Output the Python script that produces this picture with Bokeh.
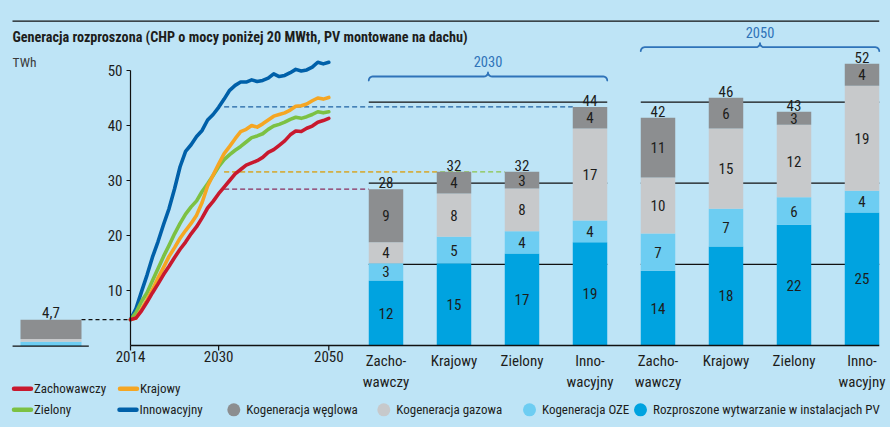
import numpy as np
from bokeh.plotting import figure
from bokeh.models import Range1d
from bokeh.core.properties import value
from bokeh.embed import file_html
from bokeh.resources import INLINE

# ---------------- data ----------------
title_text = "Generacja rozproszona (CHP o mocy poniżej 20 MWth, PV montowane na dachu)"
unit_text = "TWh"

years = list(range(2014, 2051))
zachowawczy = [4.7, 5.0, 6.3, 7.9, 9.6, 11.2, 12.9, 14.4, 16.0, 17.5, 18.8, 20.3, 21.6,
               23.2, 25.0, 26.2, 27.6, 28.8, 30.0, 31.2, 32.0, 32.8, 33.2, 33.6, 34.2,
               35.1, 35.6, 36.4, 37.2, 38.3, 39.0, 38.9, 39.5, 39.9, 40.6, 40.9, 41.3]
krajowy = [4.7, 5.0, 6.6, 8.3, 10.2, 12.3, 14.2, 16.2, 17.8, 19.5, 20.9, 22.2, 23.7,
           26.0, 29.0, 31.0, 33.0, 34.9, 36.2, 37.6, 38.9, 39.3, 40.0, 39.7, 40.3,
           41.0, 41.7, 42.0, 42.3, 42.8, 43.5, 43.6, 43.9, 44.5, 45.0, 44.8, 45.1]
zielony = [4.7, 6.0, 8.0, 9.6, 11.8, 14.0, 16.2, 18.2, 20.3, 22.2, 23.9, 25.2, 26.3,
           28.0, 29.4, 30.9, 32.5, 33.8, 34.7, 35.5, 36.2, 37.0, 37.8, 38.1, 38.5,
           39.3, 39.9, 40.2, 40.6, 41.1, 41.5, 41.3, 41.6, 42.0, 42.5, 42.3, 42.5]
innowacyjny = [4.7, 6.7, 9.8, 12.8, 16.1, 18.9, 22.0, 24.9, 28.5, 32.5, 35.3, 36.5, 38.0,
               39.1, 41.0, 42.0, 43.3, 44.8, 46.4, 47.3, 47.9, 47.9, 48.3, 48.0, 48.2,
               48.6, 49.4, 48.9, 49.1, 49.6, 50.2, 49.9, 50.1, 50.6, 51.5, 51.2, 51.5]
line_names = ["Zachowawczy", "Krajowy", "Zielony", "Innowacyjny"]

y_ticks = [10, 20, 30, 40, 50]
x_ticks = [2014, 2030, 2050]
dash_start_year = 2031

# 2014 base bar
base_pv, base_oze, base_gas, base_coal = 0.1, 0.6, 0.5, 3.5
base_label = "4,7"

# scenario bars (2030: 4 bars, 2050: 4 bars)
groups = ["2030", "2050"]
bar_cats = ["Zacho-\nwawczy", "Krajowy", "Zielony", "Inno-\nwacyjny",
            "Zacho-\nwawczy", "Krajowy", "Zielony", "Inno-\nwacyjny"]
pv = [12.0, 15.2, 17.0, 19.1, 13.8, 18.3, 22.3, 24.6]
oze = [3.2, 4.9, 4.1, 4.0, 6.9, 7.0, 5.1, 4.0]
gas = [3.9, 8.0, 7.9, 17.0, 10.35, 14.8, 13.4, 19.4]
coal = [9.8, 4.0, 3.1, 4.0, 11.05, 5.7, 2.4, 4.1]
pv_lbl = ["12", "15", "17", "19", "14", "18", "22", "25"]
oze_lbl = ["3", "5", "4", "4", "7", "7", "6", "4"]
gas_lbl = ["4", "8", "8", "17", "10", "15", "12", "19"]
coal_lbl = ["9", "4", "3", "4", "11", "6", "3", "4"]
total_lbl = ["28", "32", "32", "44", "42", "46", "43", "52"]
grid_vals = [15, 30, 45]

seg_names = ["Kogeneracja węglowa", "Kogeneracja gazowa", "Kogeneracja OZE",
             "Rozproszone wytwarzanie w instalacjach PV"]

# ---------------- style / layout ----------------
BG = "#bee4f6"
TXT = "#1d1d1b"
C_PV, C_OZE, C_GAS, C_COAL = "#00a3e0", "#6dcdf2", "#c7c9cb", "#8c8e90"
LINE_COLORS = ["#c8192e", "#f5a623", "#7cc143", "#0060a9"]
DASH_COLORS = ["#8a2c5c", "#eda43a", "#8cc34a", "#1f62a3"]
BRACE = "#2f73b9"
FONT = value("Roboto Condensed")

W, H = 890, 427
X0P, X1P, Y0P, Y1P = 0, W, 0, H            # page pixel extents of the figure

X2014, X2050 = 130.0, 328.3                 # year axis anchor pixels
PPY = (X2050 - X2014) / (2050 - 2014)
YBASE = 345.0                               # zero line pixel
PPU_LINE, PPU_BAR = 5.5, 5.41
BAR0, STEP, BAR_W = 385.5, 68.0, 0.507       # bar centre px, step px, width (units)
MINI_C, MINI_W = 50.5, 61.0

p = figure(width=W, height=H, output_backend="svg", toolbar_location=None,
           x_range=Range1d(X0P, X1P), y_range=Range1d(Y1P, Y0P),
           x_axis_type=None, y_axis_type=None, min_border=0,
           background_fill_color=BG, border_fill_color=BG, outline_line_color=None)
p.extra_x_ranges = {
    "yr": Range1d(2014 - (X2014 - X0P) / PPY, 2014 + (X1P - X2014) / PPY),
    "cat": Range1d((X0P - BAR0) / STEP, (X1P - BAR0) / STEP),
    "mini": Range1d((X0P - MINI_C) / MINI_W, (X1P - MINI_C) / MINI_W),
}
p.extra_y_ranges = {
    "lv": Range1d(-(Y1P - YBASE) / PPU_LINE, (YBASE - Y0P) / PPU_LINE),
    "bv": Range1d(-(Y1P - YBASE) / PPU_BAR, (YBASE - Y0P) / PPU_BAR),
}


def cat_px(i):
    return BAR0 + i * STEP


half_px = BAR_W * STEP / 2

# ---------------- header ----------------
p.segment(x0=[12], y0=[20.7], x1=[cat_px(7) + half_px], y1=[20.7], line_color="#111111", line_width=1.3)
p.text(x=[12], y=[36], text=[title_text], text_font=FONT, text_font_size="14.2px",
       text_font_style="bold", text_color=TXT, text_baseline="middle", text_align="left")
p.text(x=[12], y=[61], text=[unit_text], text_font=FONT, text_font_size="13.5px",
       text_color="#3a3a3a", text_baseline="middle", text_align="left")


# ---------------- braces ----------------
def brace_path(xa, xb, y, r=4.0):
    xc = (xa + xb) / 2
    t = np.linspace(0, np.pi / 2, 8)
    xs, ys = [], []
    xs += list(xa + r - r * np.cos(t)); ys += list(y + r - r * np.sin(t))      # left hook
    xs += list(xc - r + r * np.sin(t)); ys += list(y - r + r * np.cos(t))      # up to tip
    xs += list(xc + r - r * np.cos(t)); ys += list(y - r + r * np.sin(t))      # down from tip
    xs += list(xb - r + r * np.sin(t)); ys += list(y + r - r * np.cos(t))      # right hook
    return xs, ys


brace_y = [76.0, 46.7]
label_y = [61.0, 32.3]
for g, gname in enumerate(groups):
    xa = cat_px(4 * g) - half_px
    xb = cat_px(4 * g + 3) + half_px
    bx, by = brace_path(xa, xb, brace_y[g])
    p.line(bx, by, line_color=BRACE, line_width=1.8, line_join="round", line_cap="round")
    p.text(x=[(xa + xb) / 2], y=[label_y[g]], text=[gname], text_font=FONT,
           text_font_size="14.5px", text_color=BRACE, text_align="center", text_baseline="middle")

# ---------------- group reference lines (behind bars) ----------------
for g in range(2):
    a = 4 * g - BAR_W / 2
    b = 4 * g + 3 + BAR_W / 2
    p.segment(x0=[a] * 3, x1=[b] * 3, y0=grid_vals, y1=grid_vals, line_color="#111111",
              line_width=1.2, x_range_name="cat", y_range_name="bv")

# ---------------- dashed connectors ----------------
totals = np.array(pv) + np.array(oze) + np.array(gas) + np.array(coal)
dash_x0 = X2014 + (dash_start_year - 2014) * PPY
for idx in [2, 1, 0, 3]:
    ypx = YBASE - totals[idx] * PPU_BAR
    p.segment(x0=[dash_x0], x1=[cat_px(idx) - half_px], y0=[ypx], y1=[ypx],
              line_color=DASH_COLORS[idx], line_width=1.3, line_dash="5 3")

# dashed from 2014 base bar to line start
base_total = base_pv + base_oze + base_gas + base_coal
p.segment(x0=[MINI_C + MINI_W / 2], x1=[X2014], y0=[YBASE - base_total * PPU_LINE],
          y1=[YBASE - base_total * PPU_LINE], line_color="#111111", line_width=1.2, line_dash="4 3")

# ---------------- 2014 base bar ----------------
b_vals = [base_pv, base_oze, base_gas, base_coal]
b_cols = [C_PV, C_OZE, C_GAS, C_COAL]
bottom = 0.0
for v, c in zip(b_vals, b_cols):
    p.vbar(x=[0], width=1.0, bottom=[bottom], top=[bottom + v], fill_color=c, line_color=None,
           x_range_name="mini", y_range_name="lv")
    bottom += v
p.text(x=[0], y=[base_total], text=[base_label], y_offset=-2, text_font=FONT,
       text_font_size="15px", text_color=TXT, text_align="center", text_baseline="bottom",
       x_range_name="mini", y_range_name="lv")
p.segment(x0=[-0.63], x1=[0.62], y0=[-0.1], y1=[-0.1], line_color="#111111", line_width=1.2,
          x_range_name="mini", y_range_name="lv")

# ---------------- scenario bars ----------------
xs = list(range(len(pv)))
segs = [(pv, C_PV, pv_lbl), (oze, C_OZE, oze_lbl), (gas, C_GAS, gas_lbl), (coal, C_COAL, coal_lbl)]
bot = np.zeros(len(pv))
for vals, col, lbls in segs:
    v = np.array(vals)
    p.vbar(x=xs, width=BAR_W, bottom=bot, top=bot + v, fill_color=col, line_color=None,
           x_range_name="cat", y_range_name="bv")
    p.text(x=xs, y=bot + v / 2, text=lbls, text_font=FONT, text_font_size="15px",
           text_color=TXT, text_align="center", text_baseline="middle",
           x_range_name="cat", y_range_name="bv")
    bot = bot + v
p.text(x=xs, y=bot, text=total_lbl, y_offset=-1, text_font=FONT, text_font_size="15px",
       text_color=TXT, text_align="center", text_baseline="bottom",
       x_range_name="cat", y_range_name="bv")
p.text(x=xs, y=[0] * len(xs), text=bar_cats, y_offset=6, text_font=FONT, text_font_size="15px",
       text_color=TXT, text_align="center", text_baseline="top", text_line_height=1.2,
       x_range_name="cat", y_range_name="bv")

# ---------------- line chart ----------------
series = [zachowawczy, krajowy, zielony, innowacyjny]
for k in [3, 2, 1, 0]:
    p.line(years, series[k], line_color=LINE_COLORS[k], line_width=3.6, line_join="round",
           line_cap="round", x_range_name="yr", y_range_name="lv")

# axes of the line chart
p.segment(x0=[2014], x1=[2014], y0=[0], y1=[y_ticks[-1]], line_color="#111111", line_width=1.2,
          x_range_name="yr", y_range_name="lv")
p.segment(x0=[X2014], x1=[cat_px(7) + half_px], y0=[YBASE], y1=[YBASE], line_color="#111111",
          line_width=1.3)
p.ray(x=[2014] * len(y_ticks), y=y_ticks, length=4, length_units="screen", angle=np.pi,
      line_color="#111111", line_width=1.2, x_range_name="yr", y_range_name="lv")
p.ray(x=x_ticks, y=[0] * len(x_ticks), length=5, length_units="screen", angle=-np.pi / 2,
      line_color="#111111", line_width=1.2, x_range_name="yr", y_range_name="lv")
p.text(x=[2014] * len(y_ticks), y=y_ticks, text=[str(t) for t in y_ticks], x_offset=-8,
       text_font=FONT, text_font_size="15px", text_color=TXT, text_align="right",
       text_baseline="middle", x_range_name="yr", y_range_name="lv")
p.text(x=x_ticks, y=[0] * len(x_ticks), text=[str(t) for t in x_ticks], y_offset=5,
       text_font=FONT, text_font_size="15px", text_color=TXT, text_align="center",
       text_baseline="top", x_range_name="yr", y_range_name="lv")

# ---------------- legend ----------------
leg_line_pos = [(12, 388.3), (118, 388.3), (12, 409.3), (117.5, 409.3)]
for k, (lx, ly) in enumerate(leg_line_pos):
    p.segment(x0=[lx + 1.5], x1=[lx + 18.5], y0=[ly], y1=[ly], line_color=LINE_COLORS[k],
              line_width=4.5, line_cap="round")
    p.text(x=[lx + 21.5], y=[ly], text=[line_names[k]], text_font=FONT, text_font_size="13px",
           text_color=TXT, text_align="left", text_baseline="middle")
leg_dot_x = [233.3, 383.3, 529.0, 640.0]
leg_dot_cols = [C_COAL, C_GAS, C_OZE, C_PV]
for k in range(4):
    p.scatter(x=[leg_dot_x[k]], y=[409.3], size=13, marker="circle", fill_color=leg_dot_cols[k],
              line_color=None)
    p.text(x=[leg_dot_x[k] + 12.5], y=[409.3], text=[seg_names[k]], text_font=FONT,
           text_font_size="13px", text_color=TXT, text_align="left", text_baseline="middle")

html = file_html(p, INLINE, title="Generacja rozproszona")
html = html.replace("<head>", "<head><style>html,body{background:%s;margin:0;}</style>" % BG, 1)
open("out.html", "w").write(html)
